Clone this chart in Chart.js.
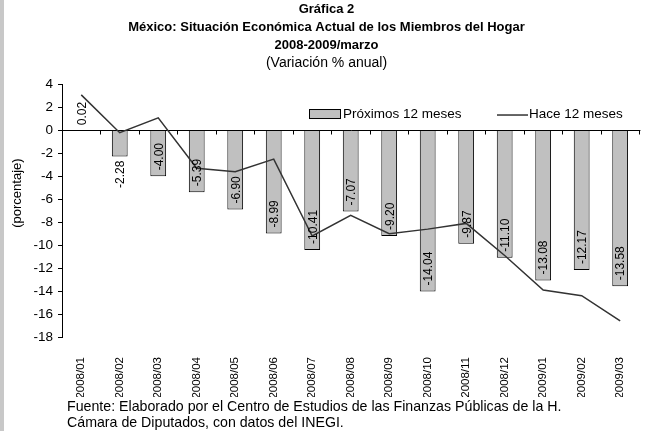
<!DOCTYPE html>
<html>
<head>
<meta charset="utf-8">
<script src="https://cdn.jsdelivr.net/npm/chart.js@4.4.1/dist/chart.umd.min.js"></script>
<style>
  html,body{margin:0;padding:0;background:#fff;}
  #wrap{width:654px;height:431px;}
</style>
</head>
<body>
<div id="wrap"><canvas id="grafica" width="654" height="431"></canvas></div>
<script>
const categories = ["2008/01","2008/02","2008/03","2008/04","2008/05","2008/06","2008/07","2008/08",
  "2008/09","2008/10","2008/11","2008/12","2009/01","2009/02","2009/03"];
const proximos12 = [0.02,-2.28,-4.00,-5.39,-6.90,-8.99,-10.41,-7.07,-9.20,-14.04,-9.87,-11.10,-13.08,-12.17,-13.58];
const hace12 = [3.1,-0.2,1.1,-3.3,-3.6,-2.5,-9.2,-7.4,-9.0,-8.6,-8.1,-10.9,-13.9,-14.4,-16.6];
const yTicks = [4,2,0,-2,-4,-6,-8,-10,-12,-14,-16,-18];

const titleLines = ["Gráfica 2","México: Situación Económica Actual de los Miembros del Hogar","2008-2009/marzo"];
const subtitle = "(Variación % anual)";
const footer = ["Fuente: Elaborado por el Centro de Estudios de las Finanzas Públicas de la H.",
  "Cámara de Diputados, con datos del INEGI."];

const FONT = "Liberation Sans, Arial, sans-serif";

// extras drawn on the canvas: side strip, zero axis, value labels, legend, footer
const extras = {
  id:"extras",
  beforeDraw(chart){
    const c = chart.ctx;
    c.save();
    c.fillStyle = "#c8c8c8";
    c.fillRect(0,0,4,chart.height);
    c.restore();
  },
  beforeDatasetsDraw(chart){
    const c = chart.ctx, a = chart.chartArea, y = chart.scales.y;
    const y0 = Math.round(y.getPixelForValue(0)) + 0.5;
    c.save();
    c.strokeStyle = "#000";
    c.lineWidth = 1;
    c.beginPath();
    c.moveTo(a.left, y0);
    c.lineTo(a.right + 1, y0);
    const step = (a.right - a.left) / categories.length;
    for(let i=1;i<=categories.length;i++){
      const tx = Math.round(a.left + i*step) + 0.5;
      c.moveTo(tx, y0);
      c.lineTo(tx, y0 + 4);
    }
    c.stroke();
    c.restore();
  },
  afterDatasetsDraw(chart){
    const c = chart.ctx, a = chart.chartArea, y = chart.scales.y;
    const meta = chart.getDatasetMeta(0);
    const base = y.getPixelForValue(0);
    c.save();
    c.fillStyle = "#000";
    c.font = "12px " + FONT;
    c.textBaseline = "middle";
    c.textAlign = "center";
    meta.data.forEach((bar,i)=>{
      const v = proximos12[i];
      const txt = v.toFixed(2);
      const w = c.measureText(txt).width;
      const end = bar.y;
      const len = Math.abs(end - base);
      let cy;
      if(len >= w + 10){
        cy = v < 0 ? end - w/2 - 6 : end + w/2 + 6;
      } else {
        cy = v < 0 ? end + w/2 + 4 : end - w/2 - 5;
      }
      c.save();
      c.translate(bar.x, cy);
      c.rotate(-Math.PI/2);
      c.fillText(txt, 0, 1);
      c.restore();
    });

    // legend
    const ds = chart.data.datasets;
    const ly = a.top + 29.5;
    c.font = "13.5px " + FONT;
    c.textAlign = "left";
    const bx = a.left + 247;
    c.fillStyle = "#c0c0c0";
    c.fillRect(bx, ly - 5, 32, 10);
    c.strokeStyle = "#000";
    c.lineWidth = 1;
    c.strokeRect(bx + 0.5, ly - 4.5, 31, 9);
    c.fillStyle = "#000";
    c.fillText(ds[0].label, bx + 34, ly);
    const lx = a.left + 435;
    c.strokeStyle = "#333";
    c.lineWidth = 1.5;
    c.beginPath();
    c.moveTo(lx, ly + 1);
    c.lineTo(lx + 31, ly + 1);
    c.stroke();
    c.fillText(ds[1].label, lx + 32, ly);

    // axis title
    c.font = "13px " + FONT;
    c.textAlign = "center";
    c.save();
    c.translate(17, a.top + (a.bottom - a.top) * 0.43);
    c.rotate(-Math.PI/2);
    c.fillText("(porcentaje)", 0, 0);
    c.restore();

    // footer
    c.font = "14.2px " + FONT;
    c.textAlign = "left";
    c.fillText(footer[0], 67, chart.height - 23.5);
    c.fillText(footer[1], 67, chart.height - 7.5);
    c.restore();
  }
};

new Chart(document.getElementById("grafica"),{
  data:{
    labels:categories,
    datasets:[
      {
        type:"bar",
        label:"Próximos 12 meses",
        data:proximos12,
        backgroundColor:"#c0c0c0",
        borderColor:"#000",
        borderWidth:1,
        barPercentage:0.41,
        categoryPercentage:1,
        order:2
      },
      {
        type:"line",
        label:"Hace 12 meses",
        data:hace12,
        borderColor:"#333",
        borderWidth:1.5,
        pointRadius:0,
        tension:0,
        fill:false,
        order:1
      }
    ]
  },
  plugins:[extras],
  options:{
    responsive:false,
    animation:false,
    devicePixelRatio:1,
    layout:{padding:{left:0,right:1,top:0,bottom:34}},
    plugins:{
      legend:{display:false},
      tooltip:{enabled:false},
      title:{
        display:true,
        text:titleLines,
        color:"#000",
        font:{family:FONT,size:13,weight:"bold",lineHeight:1.385},
        padding:{top:0,bottom:0}
      },
      subtitle:{
        display:true,
        text:subtitle,
        color:"#000",
        font:{family:FONT,size:14,lineHeight:1.286},
        padding:{top:0,bottom:12.5}
      }
    },
    scales:{
      x:{
        type:"category",
        grid:{display:false,drawTicks:false},
        border:{display:false},
        ticks:{
          autoSkip:false,
          maxRotation:90,
          minRotation:90,
          padding:20,
          color:"#000",
          font:{family:FONT,size:11.5}
        },
        afterFit(s){ s.height = 60; }
      },
      y:{
        min:-18,
        max:4,
        afterBuildTicks(s){ s.ticks = yTicks.map(v=>({value:v})); },
        grid:{drawOnChartArea:false,drawTicks:true,tickLength:4,color:"#000"},
        border:{display:true,color:"#000",width:1},
        ticks:{
          padding:5,
          color:"#000",
          font:{family:FONT,size:13.5}
        },
        afterFit(s){ s.width = 62; }
      }
    }
  }
});
</script>
</body>
</html>
